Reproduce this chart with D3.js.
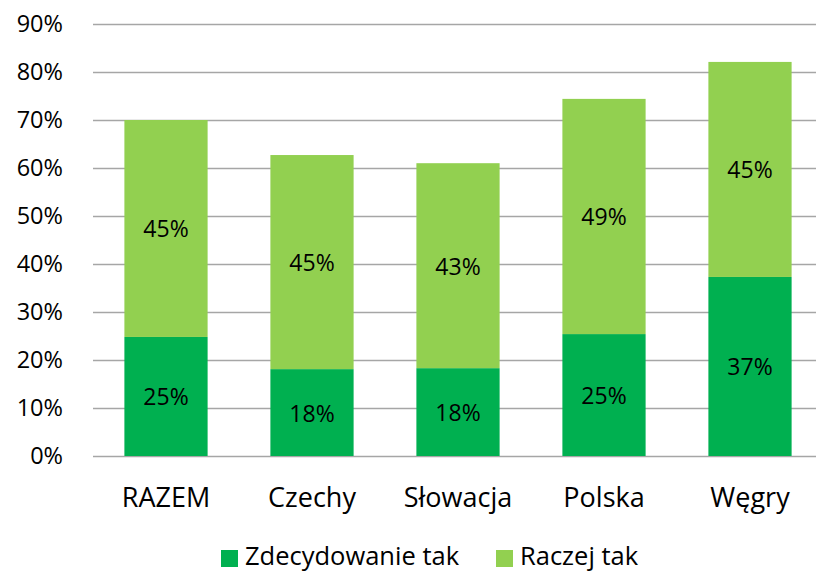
<!DOCTYPE html>
<html>
<head>
<meta charset="utf-8">
<script src="https://cdn.jsdelivr.net/npm/d3@7"></script>
<style>
  body { margin: 0; background: #fff; }
  svg { display: block; font-family: "Open Sans", sans-serif; }
</style>
</head>
<body>
<div id="container"></div>
<script>
const w = 816;
const h = 571;

// data
let categories = ["RAZEM", "Czechy", "Słowacja", "Polska", "Węgry"];
let zdecydowanie = [24.8, 18.1, 18.3, 25.4, 37.3];
let raczej = [45.2, 44.6, 42.7, 49.0, 44.8];
let seriesNames = ["Zdecydowanie tak", "Raczej tak"];
let yTicks = [0, 10, 20, 30, 40, 50, 60, 70, 80, 90];

let colors = ["#00b050", "#92d050"];

let rows = categories.map(function(c, i){
  return { cat: c, z: zdecydowanie[i], r: raczej[i] };
});

let stack = d3.stack().keys(["z", "r"]);
let layers = stack(rows);

let xScale = d3.scaleBand().domain(categories).range([93, 823]).paddingInner(0.43).paddingOuter(0.215);
let yScale = d3.scaleLinear().domain([0, 90]).range([456, 24]);

let viz = d3.select("#container").append("svg").attr("width", w).attr("height", h);

// gridlines via axis
let yAxis = d3.axisLeft(yScale).tickValues(yTicks).tickSize(-(w - 93)).tickFormat(function(d){ return d + "%"; });
let yAxisGroup = viz.append("g").attr("class", "yaxis").attr("transform", "translate(93,0)");
yAxisGroup.call(yAxis);
yAxisGroup.select(".domain").remove();
yAxisGroup.selectAll("line").attr("stroke", "#a6a6a6").attr("stroke-width", 1.6);
yAxisGroup.selectAll("text")
  .attr("x", -30)
  .attr("fill", "#000")
  .style("font-size", "23.5px")
  .attr("font-family", "Open Sans");

// bars
let layerGroups = viz.selectAll(".layer").data(layers).enter()
  .append("g")
  .attr("class", "layer")
  .attr("fill", function(d, i){ return colors[i]; });

layerGroups.selectAll("rect").data(function(d){ return d; }).enter()
  .append("rect")
  .attr("x", function(d){ return xScale(d.data.cat); })
  .attr("y", function(d){ return yScale(d[1]); })
  .attr("width", xScale.bandwidth())
  .attr("height", function(d){ return yScale(d[0]) - yScale(d[1]); });

// value labels
layerGroups.selectAll("text").data(function(d){ return d; }).enter()
  .append("text")
  .attr("x", function(d){ return xScale(d.data.cat) + xScale.bandwidth() / 2; })
  .attr("y", function(d){ return (yScale(d[0]) + yScale(d[1])) / 2; })
  .attr("text-anchor", "middle")
  .attr("dominant-baseline", "central")
  .attr("fill", "#000")
  .style("font-size", "23px")
  .text(function(d){ return Math.round(d[1] - d[0]) + "%"; });

// x axis labels
let xAxis = d3.axisBottom(xScale).tickSize(0);
let xAxisGroup = viz.append("g").attr("class", "xaxis").attr("transform", "translate(0,456)");
xAxisGroup.call(xAxis);
xAxisGroup.select(".domain").remove();
xAxisGroup.selectAll("text")
  .attr("y", 51)
  .attr("dy", 0)
  .attr("fill", "#000")
  .style("font-size", "27px")
  .attr("font-family", "Open Sans");

// legend
let legendX = [221, 496];
let legend = viz.selectAll(".legend").data(seriesNames).enter()
  .append("g")
  .attr("class", "legend")
  .attr("transform", function(d, i){ return "translate(" + legendX[i] + ",550)"; });
legend.append("rect")
  .attr("width", 17)
  .attr("height", 17)
  .attr("fill", function(d, i){ return colors[i]; });
legend.append("text")
  .attr("x", 24)
  .attr("y", 15)
  .attr("fill", "#000")
  .style("font-size", "25.5px")
  .text(function(d){ return d; });
</script>
</body>
</html>
